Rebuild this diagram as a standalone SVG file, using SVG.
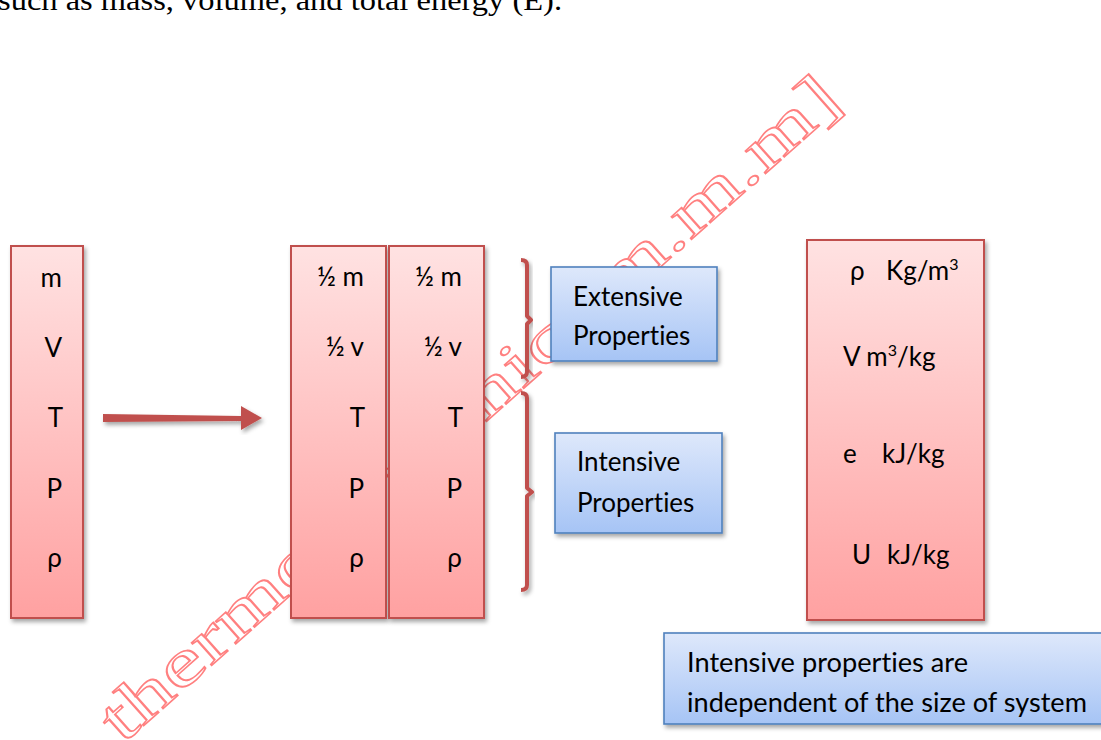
<svg xmlns="http://www.w3.org/2000/svg" width="1101" height="740" viewBox="0 0 1101 740">
  <defs>
    <linearGradient id="redGrad" x1="0" y1="0" x2="0" y2="1">
      <stop offset="0" stop-color="#ffe2e2"/>
      <stop offset="1" stop-color="#ffa1a1"/>
    </linearGradient>
    <linearGradient id="blueGrad" x1="0" y1="0" x2="0" y2="1">
      <stop offset="0" stop-color="#dee8fb"/>
      <stop offset="1" stop-color="#a6c4f5"/>
    </linearGradient>
    <filter id="shadow" x="-20%" y="-20%" width="140%" height="140%">
      <feDropShadow dx="2" dy="3" stdDeviation="2" flood-color="#000" flood-opacity="0.35"/>
    </filter>
  </defs>
  <style>
    .red { fill: url(#redGrad); stroke: #c0504d; stroke-width: 2; filter: url(#shadow); }
    .blue { fill: url(#blueGrad); stroke: #4f81bd; stroke-width: 1.6; filter: url(#shadow); }
    .lbl { font-family: Lato, "Open Sans", sans-serif; font-size: 26px; fill: #000; font-variant-ligatures: none; }
    .end { text-anchor: end; }
    .sup { font-size: 16px; }
    .brace { fill: none; stroke: #c0504d; stroke-width: 4; stroke-linejoin: round; filter: url(#shadow); }
    .wm { font-family: "Liberation Serif", serif; font-size: 66px; fill: #fff; fill-opacity: 0; stroke: #ff8080; stroke-width: 1.6; }
    .top { font-family: "Liberation Serif", serif; font-size: 29px; fill: #000; }
  </style>

  <rect width="1101" height="740" fill="#fff"/>

  <text class="top" x="-2" y="10" textLength="564" lengthAdjust="spacingAndGlyphs">such as mass, volume, and total energy (E).</text>

  <g id="watermark">
    <text class="wm" transform="translate(108,728) rotate(-41.6)" x="0" y="22" textLength="965" lengthAdjust="spacingAndGlyphs">thermodynamic [m.m.m]</text>
  </g>

  <g id="connectors">
    <path d="M103,414 L241,416 L241,406 L262,418 L241,430 L241,421 L103,422 Z" fill="#c0504d" filter="url(#shadow)"/>
    <path class="brace" d="M521,260 Q527,260 527,265 L527,316 L531,320 L527,324 L527,372 Q527,377 521,377"/>
    <path class="brace" d="M521,393 Q527,393 527,398 L527,488 L532,492 L527,496 L527,585 Q527,590 521,590"/>
  </g>

  <g id="node-whole">
    <rect class="red" x="11" y="246" width="72" height="372"/>
    <text class="lbl end" x="62" y="287">m</text>
    <text class="lbl end" x="62" y="357">V</text>
    <text class="lbl end" x="63" y="427">T</text>
    <text class="lbl end" x="62" y="498">P</text>
    <text class="lbl end" x="62" y="567">ρ</text>
  </g>

  <g id="node-half1">
    <rect class="red" x="291" y="246" width="95" height="372"/>
    <text class="lbl end" x="364" y="286">½ m</text>
    <text class="lbl end" x="364" y="356">½ v</text>
    <text class="lbl end" x="365" y="427">T</text>
    <text class="lbl end" x="364" y="498">P</text>
    <text class="lbl end" x="364" y="567">ρ</text>
  </g>

  <g id="node-half2">
    <rect class="red" x="389" y="246" width="95" height="372"/>
    <text class="lbl end" x="462" y="286">½ m</text>
    <text class="lbl end" x="462" y="356">½ v</text>
    <text class="lbl end" x="463" y="427">T</text>
    <text class="lbl end" x="462" y="498">P</text>
    <text class="lbl end" x="462" y="567">ρ</text>
  </g>

  <g id="node-extensive">
    <rect class="blue" x="551" y="267" width="166" height="94"/>
    <text class="lbl" x="573" y="306">Extensive</text>
    <text class="lbl" x="573" y="345">Properties</text>
  </g>

  <g id="node-intensive">
    <rect class="blue" x="555" y="433" width="167" height="100"/>
    <text class="lbl" x="577" y="471">Intensive</text>
    <text class="lbl" x="577" y="512">Properties</text>
  </g>

  <g id="node-specific">
    <rect class="red" x="807" y="240" width="177" height="380"/>
    <text class="lbl" x="850" y="280">ρ</text>
    <text class="lbl" x="886" y="280">Kg/m<tspan class="sup" dy="-10">3</tspan></text>
    <text class="lbl" x="843" y="366">V m<tspan class="sup" dy="-10">3</tspan><tspan dy="10">/kg</tspan></text>
    <text class="lbl" x="843" y="463">e</text>
    <text class="lbl" x="882" y="463">kJ/kg</text>
    <text class="lbl" x="852" y="564">U</text>
    <text class="lbl" x="887" y="564">kJ/kg</text>
  </g>

  <g id="node-note">
    <rect class="blue" x="664" y="633" width="450" height="91"/>
    <text class="lbl" x="687" y="672" textLength="281" lengthAdjust="spacingAndGlyphs">Intensive properties are</text>
    <text class="lbl" x="687" y="712" textLength="400" lengthAdjust="spacingAndGlyphs">independent of the size of system</text>
  </g>
</svg>
